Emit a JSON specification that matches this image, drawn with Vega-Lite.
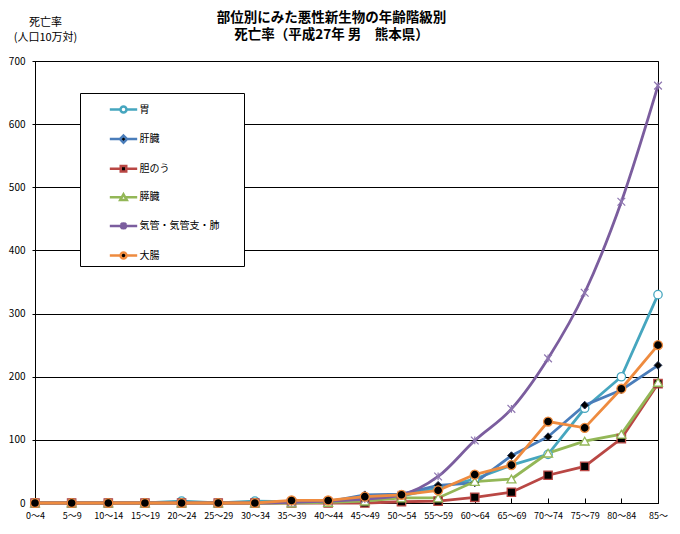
{
  "$schema": "https://vega.github.io/schema/vega-lite/v6.json",
  "width": 623,
  "height": 442,
  "autosize": {"type": "none"},
  "padding": {"left": 35, "top": 61, "right": 22, "bottom": 31},
  "background": "white",
  "config": {
    "font": "Noto Sans CJK JP",
    "view": {"stroke": "black", "strokeWidth": 1}
  },
  "title": {
    "text": ["部位別にみた悪性新生物の年齢階級別", "死亡率（平成27年 男　熊本県）"],
    "font": "Noto Sans CJK JP",
    "fontSize": 13.5,
    "fontWeight": "bold",
    "color": "black",
    "lineHeight": 17,
    "offset": 20,
    "dy": 45.5,
    "dx": -15
  },
  "datasets": {
    "rates": [
      {"age": "0～4", "s": "胃", "v": 0}, {"age": "5～9", "s": "胃", "v": 0}, {"age": "10～14", "s": "胃", "v": 0}, {"age": "15～19", "s": "胃", "v": 0}, {"age": "20～24", "s": "胃", "v": 3}, {"age": "25～29", "s": "胃", "v": 0}, {"age": "30～34", "s": "胃", "v": 3}, {"age": "35～39", "s": "胃", "v": 2}, {"age": "40～44", "s": "胃", "v": 3}, {"age": "45～49", "s": "胃", "v": 7}, {"age": "50～54", "s": "胃", "v": 11}, {"age": "55～59", "s": "胃", "v": 24}, {"age": "60～64", "s": "胃", "v": 38}, {"age": "65～69", "s": "胃", "v": 60}, {"age": "70～74", "s": "胃", "v": 77}, {"age": "75～79", "s": "胃", "v": 150}, {"age": "80～84", "s": "胃", "v": 200}, {"age": "85～", "s": "胃", "v": 330},
      {"age": "0～4", "s": "肝臓", "v": 0}, {"age": "5～9", "s": "肝臓", "v": 0}, {"age": "10～14", "s": "肝臓", "v": 0}, {"age": "15～19", "s": "肝臓", "v": 0}, {"age": "20～24", "s": "肝臓", "v": 0}, {"age": "25～29", "s": "肝臓", "v": 0}, {"age": "30～34", "s": "肝臓", "v": 0}, {"age": "35～39", "s": "肝臓", "v": 1}, {"age": "40～44", "s": "肝臓", "v": 2}, {"age": "45～49", "s": "肝臓", "v": 13}, {"age": "50～54", "s": "肝臓", "v": 14}, {"age": "55～59", "s": "肝臓", "v": 28}, {"age": "60～64", "s": "肝臓", "v": 32}, {"age": "65～69", "s": "肝臓", "v": 75}, {"age": "70～74", "s": "肝臓", "v": 105}, {"age": "75～79", "s": "肝臓", "v": 155}, {"age": "80～84", "s": "肝臓", "v": 179}, {"age": "85～", "s": "肝臓", "v": 218},
      {"age": "0～4", "s": "胆のう", "v": 0}, {"age": "5～9", "s": "胆のう", "v": 0}, {"age": "10～14", "s": "胆のう", "v": 0}, {"age": "15～19", "s": "胆のう", "v": 0}, {"age": "20～24", "s": "胆のう", "v": 0}, {"age": "25～29", "s": "胆のう", "v": 0}, {"age": "30～34", "s": "胆のう", "v": 0}, {"age": "35～39", "s": "胆のう", "v": 0}, {"age": "40～44", "s": "胆のう", "v": 0}, {"age": "45～49", "s": "胆のう", "v": 0}, {"age": "50～54", "s": "胆のう", "v": 2}, {"age": "55～59", "s": "胆のう", "v": 3}, {"age": "60～64", "s": "胆のう", "v": 9}, {"age": "65～69", "s": "胆のう", "v": 17}, {"age": "70～74", "s": "胆のう", "v": 44}, {"age": "75～79", "s": "胆のう", "v": 58}, {"age": "80～84", "s": "胆のう", "v": 102}, {"age": "85～", "s": "胆のう", "v": 189},
      {"age": "0～4", "s": "膵臓", "v": 0}, {"age": "5～9", "s": "膵臓", "v": 0}, {"age": "10～14", "s": "膵臓", "v": 0}, {"age": "15～19", "s": "膵臓", "v": 0}, {"age": "20～24", "s": "膵臓", "v": 0}, {"age": "25～29", "s": "膵臓", "v": 0}, {"age": "30～34", "s": "膵臓", "v": 0}, {"age": "35～39", "s": "膵臓", "v": 0}, {"age": "40～44", "s": "膵臓", "v": 1}, {"age": "45～49", "s": "膵臓", "v": 3}, {"age": "50～54", "s": "膵臓", "v": 8}, {"age": "55～59", "s": "膵臓", "v": 8}, {"age": "60～64", "s": "膵臓", "v": 34}, {"age": "65～69", "s": "膵臓", "v": 38}, {"age": "70～74", "s": "膵臓", "v": 79}, {"age": "75～79", "s": "膵臓", "v": 98}, {"age": "80～84", "s": "膵臓", "v": 109}, {"age": "85～", "s": "膵臓", "v": 191},
      {"age": "0～4", "s": "気管・気管支・肺", "v": 0}, {"age": "5～9", "s": "気管・気管支・肺", "v": 0}, {"age": "10～14", "s": "気管・気管支・肺", "v": 0}, {"age": "15～19", "s": "気管・気管支・肺", "v": 0}, {"age": "20～24", "s": "気管・気管支・肺", "v": 0}, {"age": "25～29", "s": "気管・気管支・肺", "v": 0}, {"age": "30～34", "s": "気管・気管支・肺", "v": 0}, {"age": "35～39", "s": "気管・気管支・肺", "v": 1}, {"age": "40～44", "s": "気管・気管支・肺", "v": 3}, {"age": "45～49", "s": "気管・気管支・肺", "v": 6}, {"age": "50～54", "s": "気管・気管支・肺", "v": 13}, {"age": "55～59", "s": "気管・気管支・肺", "v": 42}, {"age": "60～64", "s": "気管・気管支・肺", "v": 99}, {"age": "65～69", "s": "気管・気管支・肺", "v": 149}, {"age": "70～74", "s": "気管・気管支・肺", "v": 229}, {"age": "75～79", "s": "気管・気管支・肺", "v": 333}, {"age": "80～84", "s": "気管・気管支・肺", "v": 477}, {"age": "85～", "s": "気管・気管支・肺", "v": 661},
      {"age": "0～4", "s": "大腸", "v": 0}, {"age": "5～9", "s": "大腸", "v": 0}, {"age": "10～14", "s": "大腸", "v": 0}, {"age": "15～19", "s": "大腸", "v": 0}, {"age": "20～24", "s": "大腸", "v": 0}, {"age": "25～29", "s": "大腸", "v": 0}, {"age": "30～34", "s": "大腸", "v": 0}, {"age": "35～39", "s": "大腸", "v": 4}, {"age": "40～44", "s": "大腸", "v": 4}, {"age": "45～49", "s": "大腸", "v": 10}, {"age": "50～54", "s": "大腸", "v": 13}, {"age": "55～59", "s": "大腸", "v": 20}, {"age": "60～64", "s": "大腸", "v": 45}, {"age": "65～69", "s": "大腸", "v": 60}, {"age": "70～74", "s": "大腸", "v": 129}, {"age": "75～79", "s": "大腸", "v": 119}, {"age": "80～84", "s": "大腸", "v": 181}, {"age": "85～", "s": "大腸", "v": 250}
    ]
  },
  "data": {"name": "rates"},
  "encoding": {
    "x": {
      "field": "age",
      "type": "ordinal",
      "sort": null,
      "scale": {"type": "point", "padding": 0},
      "axis": {
        "title": null,
        "labelAngle": 0,
        "labelFontSize": 9,
        "labelColor": "black",
        "labelPadding": 13,
        "tickSize": -5,
        "tickColor": "black",
        "domainColor": "black",
        "grid": false
      }
    },
    "y": {
      "field": "v",
      "type": "quantitative",
      "scale": {"domain": [0, 700], "nice": false},
      "axis": {
        "values": [0, 100, 200, 300, 400, 500, 600, 700],
        "title": ["死亡率", "(人口10万対)"],
        "titleAngle": 0,
        "titleAlign": "center",
        "titleBaseline": "top",
        "titleX": 10,
        "titleY": -45,
        "titleFontSize": 11,
        "titleFontWeight": "normal",
        "titleColor": "black",
        "titleLineHeight": 15,
        "labelFontSize": 10,
        "labelColor": "black",
        "labelPadding": 7,
        "tickSize": 3,
        "tickColor": "black",
        "domainColor": "black",
        "grid": true,
        "gridColor": "black",
        "gridWidth": 1,
        "gridOpacity": 1
      }
    }
  },
  "layer": [
    {
      "transform": [{"filter": "datum.s !== '気管・気管支・肺' && datum.s !== '大腸'"}],
      "mark": {"type": "line", "strokeWidth": 2.8},
      "encoding": {
        "stroke": {
          "field": "s",
          "type": "nominal",
          "scale": {
            "domain": ["胃", "肝臓", "胆のう", "膵臓", "気管・気管支・肺", "大腸"],
            "range": ["#46A6BF", "#4A7DBA", "#B94744", "#93B757", "#7B5D9E", "#EE8B3F"]
          },
          "legend": {
            "orient": "none",
            "legendX": 45,
            "legendY": 32,
            "title": null,
            "fillColor": "white",
            "strokeColor": "black",
            "padding": 1.5,
            "symbolSize": 750,
            "symbolStrokeWidth": 2.5,
            "symbolOffset": 27,
            "labelOffset": 1,
            "labelFontSize": 10,
            "labelColor": "black",
            "labelFont": "Noto Sans CJK JP",
            "rowPadding": 5.6,
            "labelExpr": "datum.label + '　　 \u200b'",
            "encode": {
              "symbols": {
                "update": {
                  "shape": {"signal": "datum.value === '胃' || datum.value === '大腸' ? 'M-1,0H-0.22M0.22,0H1M0.22,0A0.22,0.22 0 1,1 -0.22,0A0.22,0.22 0 1,1 0.22,0Z' : datum.value === '肝臓' ? 'M-1,0H-0.26M0.26,0H1M0,-0.26L0.26,0L0,0.26L-0.26,0Z' : datum.value === '胆のう' ? 'M-1,0H-0.2M0.2,0H1M-0.2,-0.2H0.2V0.2H-0.2Z' : datum.value === '膵臓' ? 'M-1,0H-0.13M0.13,0H1M0,-0.22L0.24,0.2H-0.24Z' : 'M-1,0H1M-0.2,-0.2L0.2,0.2M-0.2,0.2L0.2,-0.2M0,-0.26V0.26'"},
                  "fill": {"signal": "datum.value === '肝臓' || datum.value === '胆のう' || datum.value === '大腸' ? 'black' : 'white'"},
                  "fillOpacity": {"value": 1}
                }
              }
            }
          }
        }
      }
    },
    {
      "transform": [{"filter": "datum.s === '気管・気管支・肺'"}],
      "mark": {"type": "line", "strokeWidth": 2.8, "interpolate": "monotone"},
      "encoding": {
        "stroke": {
          "field": "s",
          "type": "nominal",
          "scale": {
            "domain": ["胃", "肝臓", "胆のう", "膵臓", "気管・気管支・肺", "大腸"],
            "range": ["#46A6BF", "#4A7DBA", "#B94744", "#93B757", "#7B5D9E", "#EE8B3F"]
          }
        }
      }
    },
    {
      "transform": [{"filter": "datum.s === '大腸'"}],
      "mark": {"type": "line", "strokeWidth": 2.8},
      "encoding": {
        "stroke": {
          "field": "s",
          "type": "nominal",
          "scale": {
            "domain": ["胃", "肝臓", "胆のう", "膵臓", "気管・気管支・肺", "大腸"],
            "range": ["#46A6BF", "#4A7DBA", "#B94744", "#93B757", "#7B5D9E", "#EE8B3F"]
          }
        }
      }
    },
    {
      "transform": [{"filter": "datum.s === '胃'"}],
      "mark": {"type": "point", "shape": "circle", "filled": true, "fill": "white", "stroke": "#46A6BF", "size": 70, "strokeWidth": 1.3, "opacity": 1},
      "encoding": {}
    },
    {
      "transform": [{"filter": "datum.s === '肝臓'"}],
      "mark": {"type": "point", "shape": "diamond", "filled": true, "fill": "black", "stroke": "#1f2f4f", "size": 60, "strokeWidth": 1, "opacity": 1},
      "encoding": {}
    },
    {
      "transform": [{"filter": "datum.s === '胆のう'"}],
      "mark": {"type": "point", "shape": "square", "filled": true, "fill": "black", "stroke": "#B94744", "size": 70, "strokeWidth": 1.3, "opacity": 1},
      "encoding": {}
    },
    {
      "transform": [{"filter": "datum.s === '膵臓'"}],
      "mark": {"type": "point", "shape": "triangle-up", "filled": true, "fill": "white", "stroke": "#93B757", "size": 80, "strokeWidth": 1.3, "opacity": 1},
      "encoding": {}
    },
    {
      "transform": [{"filter": "datum.s === '気管・気管支・肺'"}],
      "mark": {"type": "point", "shape": "M-1,-1L1,1M-1,1L1,-1M0,-1V1", "filled": false, "stroke": "#8E76B0", "size": 60, "strokeWidth": 1.2, "opacity": 1},
      "encoding": {}
    },
    {
      "transform": [{"filter": "datum.s === '大腸'"}],
      "mark": {"type": "point", "shape": "circle", "filled": true, "fill": "black", "stroke": "#EE8B3F", "size": 80, "strokeWidth": 1.3, "opacity": 1},
      "encoding": {}
    }
  ]
}
